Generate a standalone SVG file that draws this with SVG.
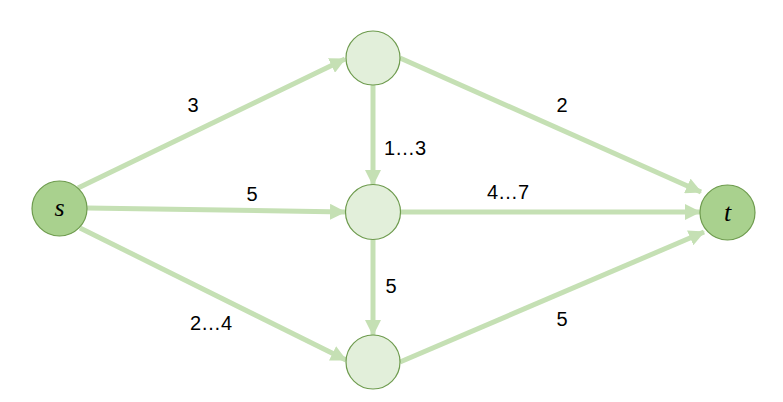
<svg xmlns="http://www.w3.org/2000/svg" width="783" height="402" viewBox="0 0 783 402">
<style>
.e{stroke:#c5e0b4;stroke-width:5;fill:none}
.n{fill:#e2efda;stroke:#6e9b4e;stroke-width:1.2}
.st{fill:#a9d18e;stroke:#6e9b4e;stroke-width:1.2}
.l{font-family:"Liberation Sans",Arial,sans-serif;font-size:20px;fill:#000}
.v{font-family:"Liberation Serif","DejaVu Serif",serif;font-style:italic;font-size:26px;fill:#000}
</style>
<defs>
<marker id="a" markerUnits="userSpaceOnUse" markerWidth="16" markerHeight="16" viewBox="0 0 16 16" refX="15" refY="8" orient="auto">
<path d="M0,0 L16,8 L0,16 Z" fill="#c5e0b4"/>
</marker>
</defs>
<g id="connectors">
<line class="e" x1="78" y1="188" x2="345" y2="59" marker-end="url(#a)"/>
<line class="e" x1="400" y1="58" x2="701" y2="192" marker-end="url(#a)"/>
<line class="e" x1="87" y1="208" x2="345" y2="212" marker-end="url(#a)"/>
<line class="e" x1="400" y1="212" x2="700" y2="212" marker-end="url(#a)"/>
<line class="e" x1="373" y1="85" x2="373" y2="185" marker-end="url(#a)"/>
<line class="e" x1="373" y1="239" x2="373" y2="335" marker-end="url(#a)"/>
<line class="e" x1="80" y1="228" x2="346" y2="360" marker-end="url(#a)"/>
<line class="e" x1="400" y1="362" x2="704" y2="232" marker-end="url(#a)"/>
</g>
<g id="s"><circle class="st" cx="59.5" cy="208.5" r="27.5"/><text class="v" x="59.5" y="216" text-anchor="middle">s</text></g>
<g id="top"><circle class="n" cx="373" cy="58" r="27"/></g>
<g id="mid"><circle class="n" cx="373" cy="212" r="27.5"/></g>
<g id="bot"><circle class="n" cx="373" cy="362" r="27"/></g>
<g id="t"><circle class="st" cx="727.5" cy="212.5" r="27.5"/><text class="v" x="727.5" y="221" text-anchor="middle">t</text></g>
<g id="labels">
<text class="l" x="193" y="112" text-anchor="middle">3</text>
<text class="l" x="562" y="112" text-anchor="middle">2</text>
<text class="l" x="405" y="155" text-anchor="middle">1…3</text>
<text class="l" x="252" y="201" text-anchor="middle">5</text>
<text class="l" x="508" y="199" text-anchor="middle">4…7</text>
<text class="l" x="391" y="293" text-anchor="middle">5</text>
<text class="l" x="211" y="330" text-anchor="middle">2…4</text>
<text class="l" x="562" y="326" text-anchor="middle">5</text>
</g>
</svg>
